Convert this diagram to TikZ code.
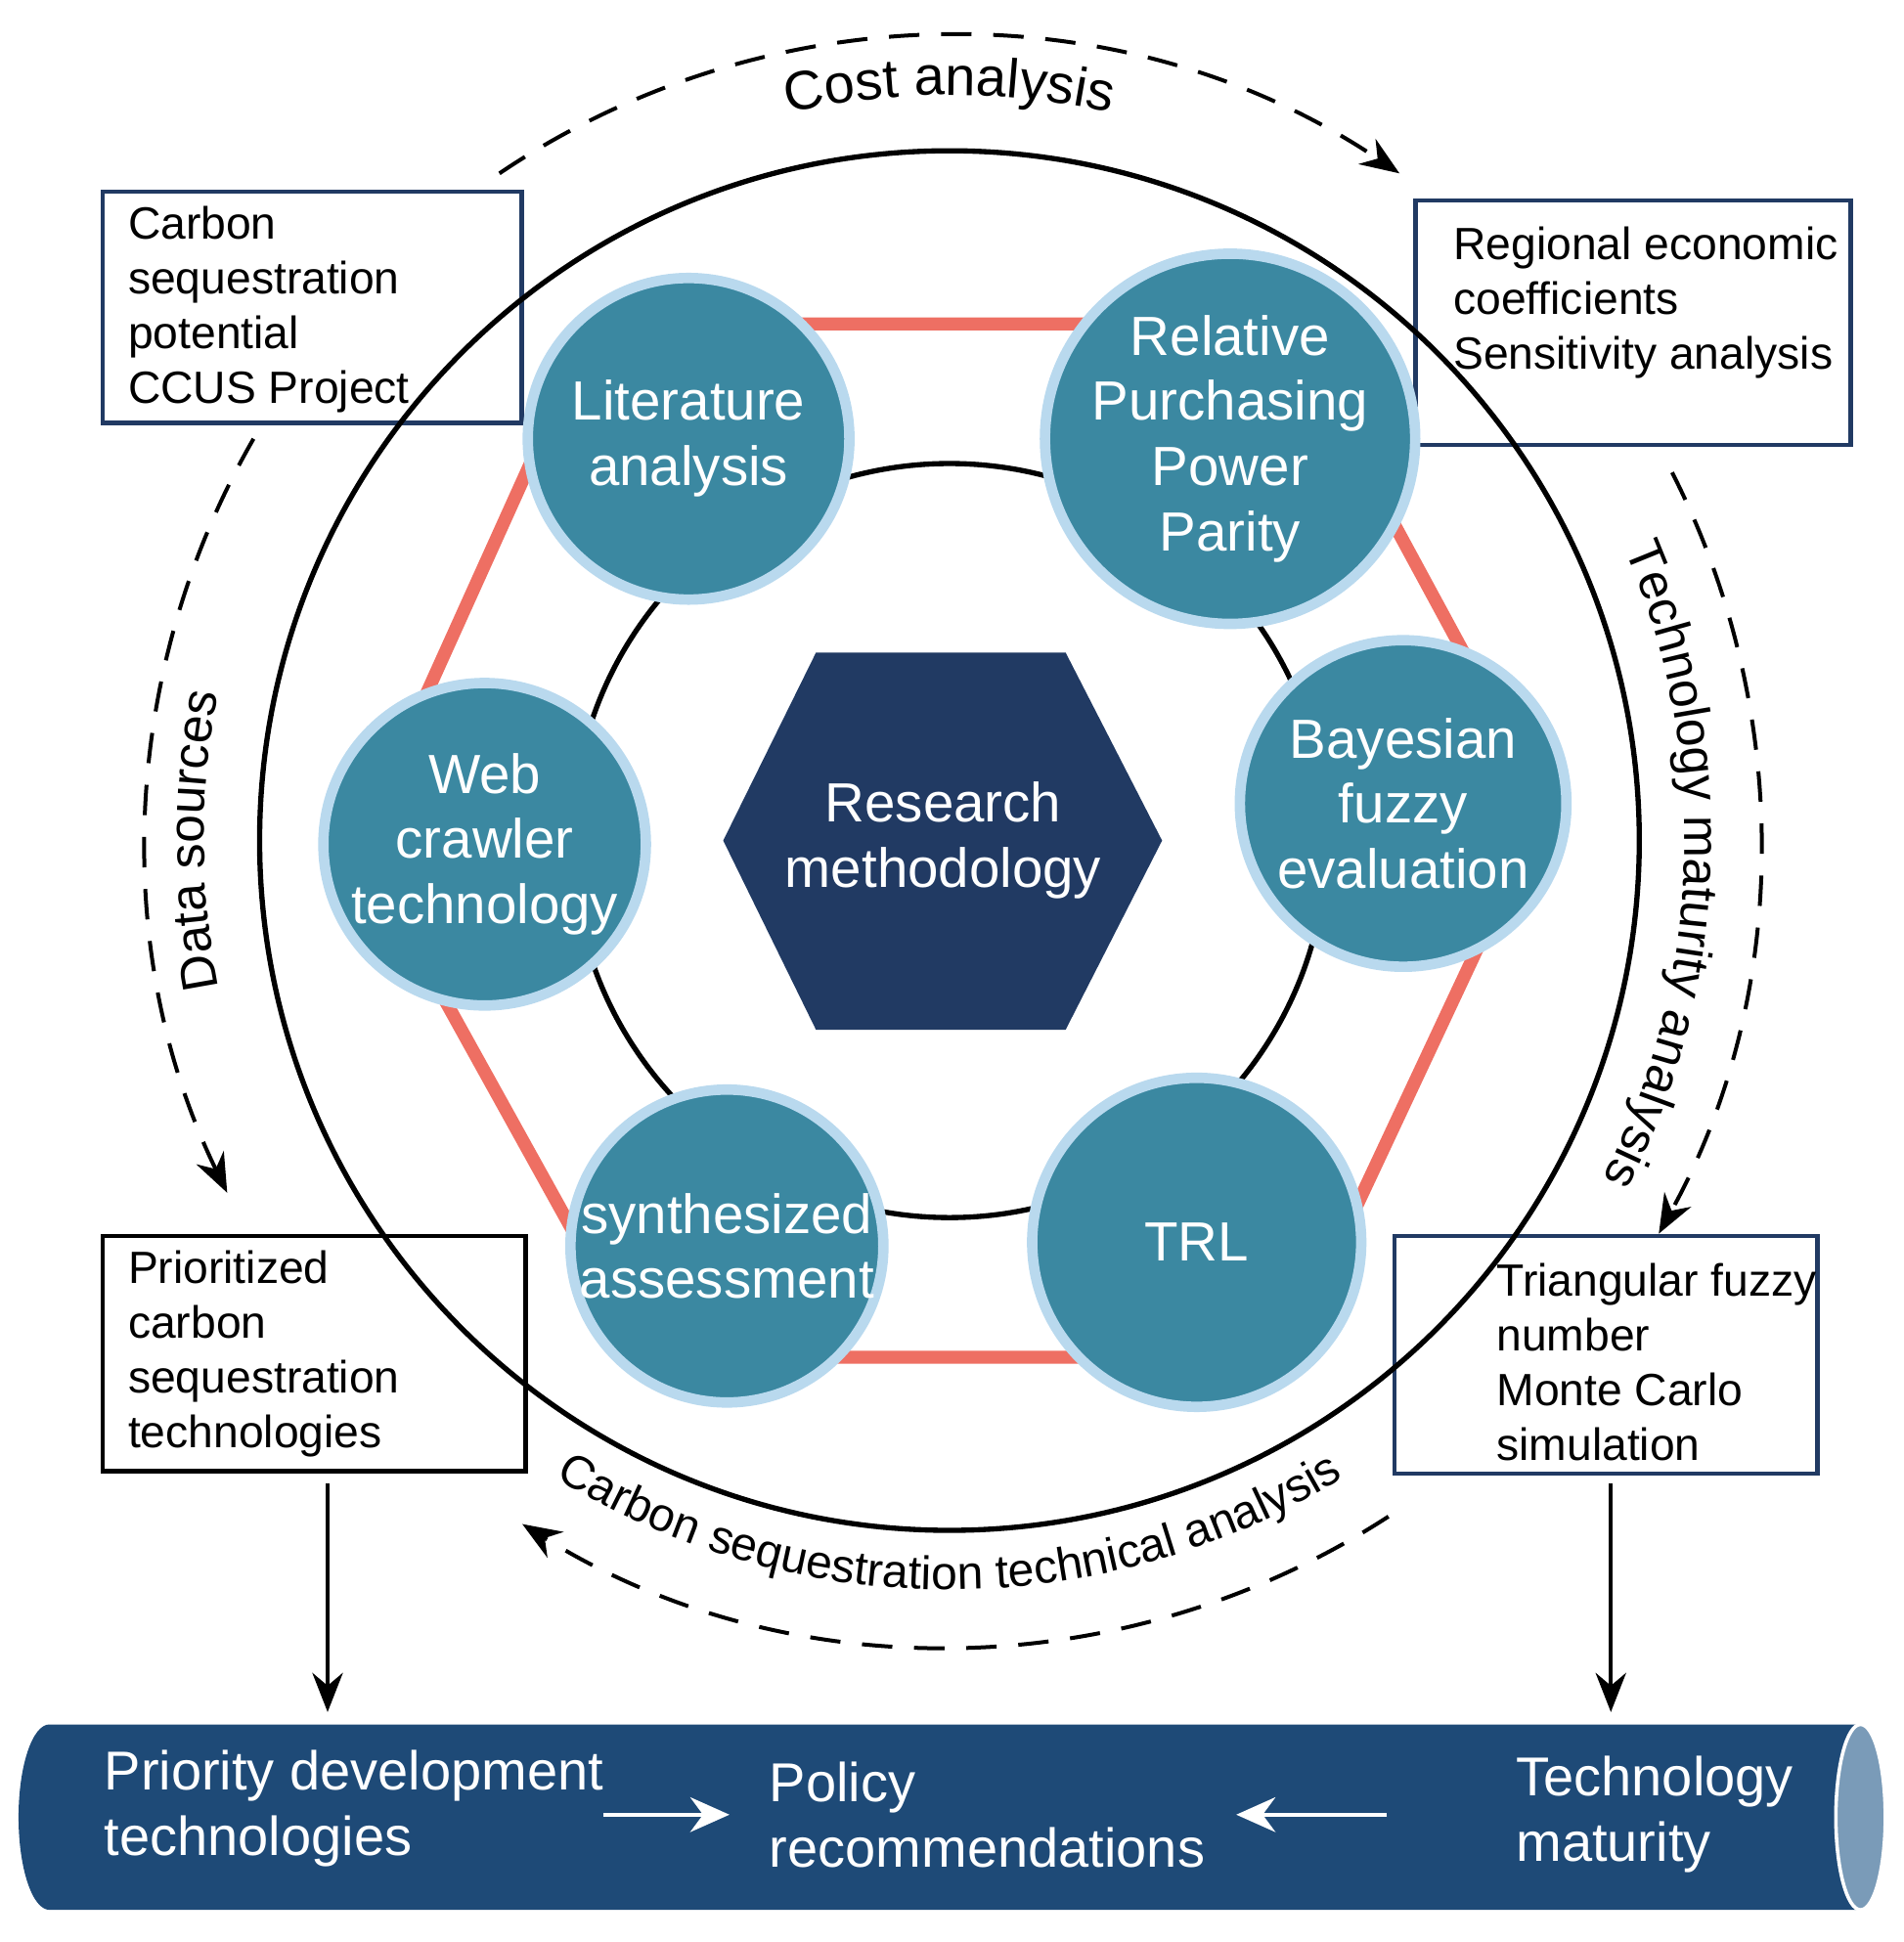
\documentclass[tikz,border=0pt]{standalone}
\usepackage{fontspec}
\setmainfont{Liberation Sans}
\usetikzlibrary{decorations.text,arrows.meta,calc}
\definecolor{navy}{HTML}{213A63}
\definecolor{bar}{HTML}{1E4A77}
\definecolor{disk}{HTML}{3B88A1}
\definecolor{ring}{HTML}{B9D9EE}
\definecolor{hexred}{HTML}{EE6F63}
\begin{document}
\begin{tikzpicture}[x=0.01cm,y=0.01cm,
  disc/.style={circle,fill=disk,draw=ring,line width=2.4pt,text=white,align=center,inner sep=0pt,font=\fontsize{12.7}{15}\selectfont},
  box/.style={anchor=north west,align=left,inner sep=0pt,font=\fontsize{10.4}{12.6}\selectfont},
  dasharc/.style={line width=0.9pt,dash pattern=on 7pt off 5pt,-{Stealth[length=9pt,width=7pt]}},
  bartext/.style={text=white,align=left,anchor=west,font=\fontsize{12.6}{15}\selectfont},
  arc text/.style={decorate,decoration={text along path,text align=center,text={#1}}}]
\useasboundingbox (0,0) rectangle (1540,1571);
\coordinate (C) at (768,891);
% boxes
\draw[draw=navy,line width=1pt,fill=white] (83,1416) rectangle (422,1229);
\node[box] (b1) at (103,1405) {Carbon\\sequestration\\potential\\CCUS Project};
\draw[draw=navy,line width=1pt,fill=white] (1145,1409) rectangle (1497,1211);
\node[box] (b2) at (1175,1388) {Regional economic\\coefficients\\Sensitivity analysis};
\draw[draw=black,line width=1pt,fill=white] (83,571) rectangle (425,381);
\node[box] (b3) at (103,560) {Prioritized\\carbon\\sequestration\\technologies};
\draw[draw=navy,line width=1pt,fill=white] (1128,571) rectangle (1470,379);
\node[box] (b4) at (1210,550) {Triangular fuzzy\\number\\Monte Carlo\\simulation};
% circles
\draw[line width=1.2pt] (C) circle (558);
\draw[line width=1.2pt] (C) circle (305);
% hexagon red
\draw[hexred,line width=3pt] (480,1309)--(1040,1309)--(1250,921)--(1040,473)--(520,473)--(290,888)--cycle;
% centre hexagon
\fill[navy] (660,1043)--(862,1043)--(940,891)--(862,738)--(660,738)--(585,891)--cycle;
\node[text=white,align=center,font=\fontsize{12.7}{15}\selectfont] (hex) at (763,891) {Research\\methodology};
% discs
\node[disc,minimum size=2.6cm] (lit) at (557,1216) {Literature\\analysis};
\node[disc,minimum size=2.6cm] (rpp) at (995,1216) {Relative\\Purchasing\\Power\\Parity};
\node[disc,minimum size=2.64cm] (bay) at (1135,921) {Bayesian\\fuzzy\\evaluation};
\node[disc,minimum size=2.66cm] (trl) at (968,566) {TRL};
\node[disc,minimum size=2.5cm] (syn) at (588,563) {synthesized\\assessment};
\node[disc,minimum size=2.54cm] (web) at (392,888) {Web\\crawler\\technology};
% dashed arcs
\draw[dasharc] ($(C)+(124:651)$) arc (124:56:651);
\draw[dasharc] ($(C)+(27:656)$) arc (27:-29:656);
\draw[dasharc] ($(C)+(-57:652)$) arc (-57:-122:652);
\draw[dasharc] ($(C)+(150:650)$) arc (150:206:650);
% arc labels
\path[arc text={|\fontsize{12.6}{14}\selectfont|Cost analysis}] ($(C)+(112:603)$) arc (112:68:603);
\path[arc text={|\fontsize{11.6}{12}\selectfont|Technology maturity analysis}] ($(C)+(32:595)$) arc (32:-36:595);
\path[arc text={|\fontsize{10.8}{12}\selectfont|Carbon sequestration technical analysis}] ($(C)+(-130:606)$) arc (-130:-50:606);
\path[arc text={|\fontsize{11.6}{12}\selectfont|Data sources}] ($(C)+(198:603)$) arc (198:162:603);
% bottom bar
\fill[bar] (40,176) -- (1505,176) -- (1505,26) -- (40,26) arc (270:90:25 and 75) -- cycle;
\draw[white,line width=0.8pt,fill={rgb,255:red,122;green,155;blue,184}] (1505,101) ellipse (20 and 75);
\node[bartext] (p1) at (72,108) {Priority development\\technologies};
\node[bartext] (p2) at (610,103) {Policy\\recommendations};
\node[bartext] (p3) at (1214,103) {Technology\\maturity};
\coordinate (a1) at (488,103); \coordinate (a2) at (590,103);
\coordinate (a3) at (1122,103); \coordinate (a4) at (1000,103);
\draw[white,line width=0.8pt,-{Stealth[length=9pt,width=8pt]}] (a1)--(a2);
\draw[white,line width=0.8pt,-{Stealth[length=9pt,width=8pt]}] (a3)--(a4);
\coordinate (d1) at (265,371); \coordinate (d2) at (265,186);
\coordinate (d3) at (1303,371); \coordinate (d4) at (1303,186);
\draw[line width=1pt,-{Stealth[length=9pt,width=7pt]}] (d1)--(d2);
\draw[line width=1pt,-{Stealth[length=9pt,width=7pt]}] (d3)--(d4);
\end{tikzpicture}
\end{document}
